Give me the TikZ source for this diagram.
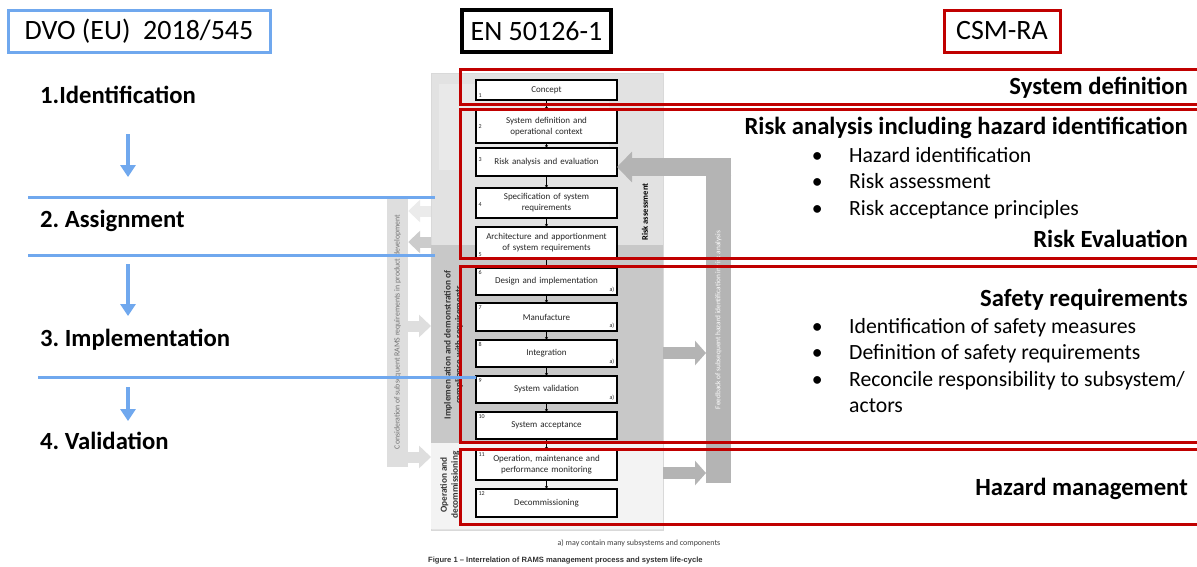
\documentclass[tikz,border=0pt]{standalone}
\usepackage{fontspec}
\setmainfont{Carlito}
\newfontfamily\capfont{Liberation Sans}
\usetikzlibrary{arrows.meta,positioning}
\frenchspacing

\definecolor{dvoblue}{RGB}{112,168,238}
\definecolor{csmred}{RGB}{192,0,0}
\definecolor{riskgrey}{RGB}{226,226,226}
\definecolor{conceptgrey}{RGB}{233,233,233}
\definecolor{implgrey}{RGB}{200,200,200}
\definecolor{opgrey}{RGB}{243,243,243}
\definecolor{fbgrey}{RGB}{180,180,180}
\definecolor{bargrey}{RGB}{222,222,222}

\newcommand{\csmitem}{\llap{\textbullet\hspace{26.5pt}}}

\begin{document}
\begin{tikzpicture}[x=1pt,y=-1pt,node distance=9pt,
    hdr/.style={rectangle,draw,line width=3pt,minimum height=42pt,inner sep=0pt,font=\fontsize{28}{30}\selectfont},
    phase/.style={anchor=base west,inner sep=0pt,font=\bfseries\fontsize{24.7}{28}\selectfont},
    dvoline/.style={dvoblue,line width=3pt},
    bluedown/.style={dvoblue,line width=4pt,-{Triangle[length=12pt,width=15pt]}},
    stepbox/.style={rectangle,draw,line width=1.8pt,fill=white,minimum width=141pt,text width=137pt,align=center,inner sep=1pt,outer sep=0pt,text=black!85,font=\fontsize{9}{11}\selectfont},
    stepnum/.style={inner sep=2.5pt,text=black!85,font=\fontsize{6}{7}\selectfont},
    steparrow/.style={line width=0.6pt,-{Stealth[length=3pt,width=3pt]}},
    lczone/.style={rectangle,anchor=north west,inner sep=0pt,minimum width=232pt},
    rottext/.style={rotate=90,align=center,inner sep=0pt},
    ramsarrow/.style={bargrey,line width=11pt,-{Triangle[length=12pt,width=22pt]}},
    fbarrow/.style={fbgrey,line width=12pt,-{Triangle[length=11pt,width=24pt]}},
    csm/.style={rectangle,draw=csmred,line width=3pt,anchor=north west,minimum width=760pt,inner sep=0pt},
    csmhead/.style={anchor=base east,inner sep=0pt,font=\bfseries\fontsize{24.7}{28}\selectfont},
    csmpoint/.style={anchor=base west,inner sep=0pt,font=\fontsize{21.7}{26}\selectfont}
  ]
  \fill[white] (0,0) rectangle (1197,566);
  \useasboundingbox (0,0) rectangle (1197,566);

  % the three standards
  \node[hdr,draw=dvoblue,minimum width=262pt] (dvo) at (139,31) {DVO (EU)\ \ 2018/545};
  \node[hdr,draw=black,line width=4pt,minimum width=149pt] (en) at (536.5,31) {EN 50126-1};
  \node[hdr,draw=csmred,minimum width=116pt] (csmra) at (1002,31) {CSM-RA};

  % life-cycle figure of EN 50126-1
  \node[lczone,fill=riskgrey,draw=black!15,line width=1pt,minimum height=457pt] (lifecycle) at (431,73) {};
  \node[lczone,fill=conceptgrey,minimum width=170pt,minimum height=86pt] (conceptzone) at (439,84) {};
  \node[lczone,fill=implgrey,minimum height=198pt] (implzone) at (431,245) {};
  \node[lczone,fill=opgrey,minimum height=86pt] (opzone) at (431,443) {};

  \node[rottext,font=\bfseries\fontsize{8.5}{10}\selectfont] (risklbl) at (645,212) {Risk assessment};
  \node[rottext,text=black!80,font=\bfseries\fontsize{9.3}{11}\selectfont] (impllbl) at (453.5,345) {Implementation and demonstration of\\compliance with requirements};
  \node[rottext,text=black!80,font=\bfseries\fontsize{9.3}{11}\selectfont] (oplbl) at (450,485) {Operation and\\decommissioning};

  \node[rectangle,fill=bargrey,minimum width=21pt,minimum height=270pt,inner sep=0pt] (rams) at (397.5,332) {};
  \node[rottext,text=black!55,font=\fontsize{7.8}{9}\selectfont] (ramslbl) at (rams.center) {Consideration of subsequent RAMS requirements in product development};

  \coordinate (rin1) at (408,326);
  \coordinate (rin2) at (408,457);
  \draw[ramsarrow] (rin1) -- (rin1 -| lifecycle.west);
  \draw[ramsarrow] (rin2) -- (rin2 -| lifecycle.west);
  \coordinate (rout1) at (431,211);
  \coordinate (rout2) at (431,242);
  \draw[ramsarrow,black!8] (rout1) -- (rout1 -| rams.east);
  \draw[ramsarrow,black!20] (rout2) -- (rout2 -| rams.east);

  \node[rectangle,fill=fbgrey,minimum width=25pt,minimum height=325pt,inner sep=0pt,anchor=north west] (feedback) at (706,158) {};
  \node[rottext,text=white,font=\fontsize{7.3}{9}\selectfont] (fblbl) at (718.5,320) {Feedback of subsequent hazard identification in risk analysis};

  \node[stepbox,minimum height=20pt,label={[stepnum,anchor=south west]south west:1}] (s1) at (546.5,90) {Concept};
  \node[stepbox,minimum height=33pt,below=10pt of s1,label={[stepnum,anchor=west]west:2}] (s2) {System definition and\\operational context};
  \node[stepbox,minimum height=28pt,below=5pt of s2,label={[stepnum,anchor=west,yshift=2pt]west:3}] (s3) {Risk analysis and evaluation};
  \node[stepbox,minimum height=30pt,below=12pt of s3,label={[stepnum,anchor=west,yshift=-2pt]west:4}] (s4) {Specification of system\\requirements};
  \node[stepbox,minimum height=32pt,below=of s4,label={[stepnum,anchor=south west]south west:5}] (s5) {Architecture and apportionment\\of system requirements};
  \node[stepbox,minimum height=27pt,below=of s5,label={[stepnum,anchor=north west]north west:6},label={[stepnum,anchor=south east]south east:a)}] (s6) {Design and implementation};
  \node[stepbox,minimum height=28pt,below=8pt of s6,label={[stepnum,anchor=north west]north west:7},label={[stepnum,anchor=south east]south east:a)}] (s7) {Manufacture};
  \node[stepbox,minimum height=27pt,below=of s7,label={[stepnum,anchor=north west]north west:8},label={[stepnum,anchor=south east]south east:a)}] (s8) {Integration};
  \node[stepbox,minimum height=27pt,below=of s8,label={[stepnum,anchor=north west]north west:9},label={[stepnum,anchor=south east]south east:a)}] (s9) {System validation};
  \node[stepbox,minimum height=27pt,below=of s9,label={[stepnum,anchor=north west]north west:10}] (s10) {System acceptance};
  \node[stepbox,minimum height=30pt,below=11pt of s10,label={[stepnum,anchor=north west]north west:11}] (s11) {Operation, maintenance and\\performance monitoring};
  \node[stepbox,minimum height=28pt,below=of s11,label={[stepnum,anchor=north west]north west:12}] (s12) {Decommissioning};

  \draw[steparrow] (s1) -- (s2);
  \draw[steparrow] (s2) -- (s3);
  \draw[steparrow] (s3) -- (s4);
  \draw[steparrow] (s4) -- (s5);
  \draw[steparrow] (s5) -- (s6);
  \draw[steparrow] (s6) -- (s7);
  \draw[steparrow] (s7) -- (s8);
  \draw[steparrow] (s8) -- (s9);
  \draw[steparrow] (s9) -- (s10);
  \draw[steparrow] (s10) -- (s11);
  \draw[steparrow] (s11) -- (s12);

  % feedback loop
  \coordinate (fbtop) at ([yshift=-9pt]feedback.north east);
  \draw[fbgrey,line width=18pt,-{Triangle[length=15pt,width=30pt]}] (fbtop) -- (fbtop -| s3.east);
  \coordinate (fbin1) at (663,353);
  \coordinate (fbin2) at (663,473);
  \draw[fbarrow] (fbin1) -- (fbin1 -| feedback.west);
  \draw[fbarrow] (fbin2) -- (fbin2 -| feedback.west);

  \node[inner sep=0pt,anchor=base,text=black!75,font=\fontsize{8}{9}\selectfont] (note) at (639,545) {a) may contain many subsystems and components};
  \node[inner sep=0pt,anchor=base west,text=black!80,font=\capfont\bfseries\fontsize{7.6}{9}\selectfont] (figcap) at (428,562) {Figure 1 – Interrelation of RAMS management process and system life-cycle};

  % CSM-RA steps
  \node[csm,minimum height=35pt] (sysdef) at (459,68) {};
  \node[csm,minimum height=149pt] (riskan) at (459,108) {};
  \node[csm,minimum height=176pt] (safereq) at (459,265) {};
  \node[csm,minimum height=75pt] (hazman) at (459,448) {};

  \node[csmhead] (sysdeft) at (1188,94) {System definition};
  \node[csmhead] (riskant) at (1188,134) {Risk analysis including hazard identification};
  \node[csmpoint] (hazid) at (849,162) {\csmitem Hazard identification};
  \node[csmpoint] (riskas) at (849,188) {\csmitem Risk assessment};
  \node[csmpoint] (riskac) at (849,215) {\csmitem Risk acceptance principles};
  \node[csmhead] (riskev) at (1188,247) {Risk Evaluation};
  \node[csmhead] (safereqt) at (1188,306) {Safety requirements};
  \node[csmpoint] (safemeas) at (849,333) {\csmitem Identification of safety measures};
  \node[csmpoint] (safedef) at (849,359) {\csmitem Definition of safety requirements};
  \node[csmpoint] (reconc) at (849,386) {\csmitem Reconcile responsibility to subsystem/};
  \node[csmpoint] (actors) at (849,412) {actors};
  \node[csmhead] (hazmant) at (1188,495) {Hazard management};

  % DVO phases
  \node[phase] (ident) at (40,103) {1.Identification};
  \node[phase] (assign) at (40,227) {2. Assignment};
  \node[phase] (implem) at (40,346) {3. Implementation};
  \node[phase] (valid) at (40,449) {4. Validation};

  \coordinate (d1a) at (128,134);
  \coordinate (d1b) at (128,177);
  \coordinate (d2a) at (128,264);
  \coordinate (d2b) at (128,316);
  \coordinate (d3a) at (128,387);
  \coordinate (d3b) at (128,421);
  \draw[bluedown] (d1a) -- (d1b);
  \draw[bluedown] (d2a) -- (d2b);
  \draw[bluedown] (d3a) -- (d3b);

  \coordinate (c1a) at (28,197);
  \coordinate (c2a) at (28,255);
  \coordinate (c3a) at (38,377);
  \draw[dvoline] (c1a) -- (c1a -| rams.east) -- ++(27,0);
  \draw[dvoline] (c2a) -- (c2a -| rams.east) -- ++(27,0);
  \draw[dvoline] (c3a) -- (c3a -| s1.west) -- ++(-13,0);
\end{tikzpicture}
\end{document}
